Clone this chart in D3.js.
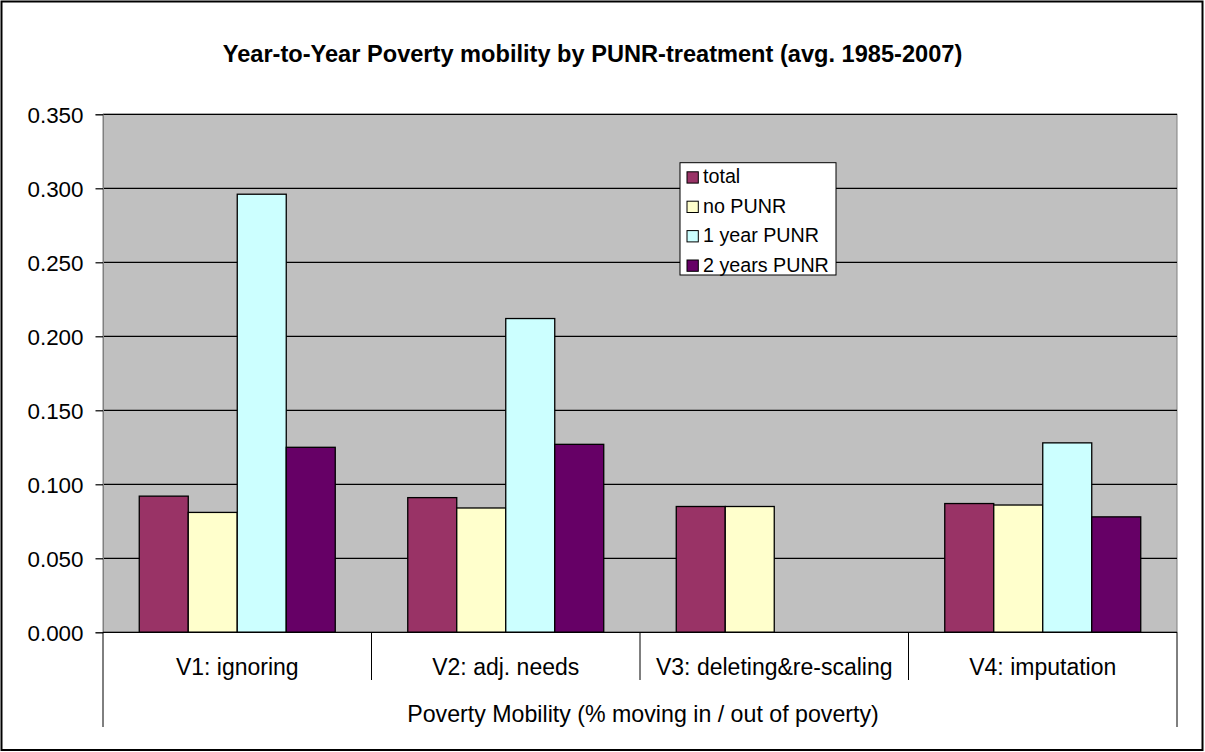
<!DOCTYPE html>
<html><head><meta charset="utf-8">
<script src="https://cdn.jsdelivr.net/npm/d3@7"></script>
<style>
html,body{margin:0;padding:0;background:#fff;}
svg{display:block;font-family:"Liberation Sans",Arial,sans-serif;}
</style></head>
<body>
<svg id="chart" width="1205" height="752"></svg>
<script>
const categories = ["V1: ignoring", "V2: adj. needs", "V3: deleting&re-scaling", "V4: imputation"];
const seriesNames = ["total", "no PUNR", "1 year PUNR", "2 years PUNR"];
const seriesColors = ["#993366", "#FFFFCC", "#CCFFFF", "#660066"];
const totalVals   = [0.092, 0.091, 0.085, 0.087];
const noPunrVals  = [0.081, 0.084, 0.085, 0.086];
const oneYearVals = [0.296, 0.212, null, 0.128];
const twoYearVals = [0.125, 0.127, null, 0.078];
const yTicks = [0, 0.05, 0.1, 0.15, 0.2, 0.25, 0.3, 0.35];
const titleText = "Year-to-Year Poverty mobility by PUNR-treatment (avg. 1985-2007)";
const xTitleText = "Poverty Mobility (% moving in / out of poverty)";

const seriesVals = [totalVals, noPunrVals, oneYearVals, twoYearVals];
const svg = d3.select("#chart");
const pLeft = 103, pRight = 1177, pTop = 114.3, pBottom = 632.3;

// outer border
svg.append("rect").attr("x",1.5).attr("y",1.5).attr("width",1201).attr("height",748.5)
  .attr("fill","#fff").attr("stroke","#000").attr("stroke-width",2);

const x0 = d3.scaleBand().domain(categories).range([pLeft,pRight]).paddingInner(0).paddingOuter(0);
const x1 = d3.scaleBand().domain(seriesNames).range([0,x0.bandwidth()]).paddingInner(0).paddingOuter(0.74);
const y = d3.scaleLinear().domain([0,0.35]).range([pBottom,pTop]);

// plot area
svg.append("rect").attr("x",pLeft).attr("y",pTop).attr("width",pRight-pLeft).attr("height",pBottom-pTop)
  .attr("fill","#C0C0C0").attr("stroke","#808080").attr("stroke-width",1);

// gridlines
svg.append("g").selectAll("line").data(yTicks.filter(d=>d>0)).join("line")
  .attr("x1",pLeft).attr("x2",pRight).attr("y1",d=>y(d)).attr("y2",d=>y(d))
  .attr("stroke","#000").attr("stroke-width",1.2);

// y axis
const yAxis = d3.axisLeft(y).tickValues(yTicks).tickFormat(d3.format(".3f")).tickSize(7.5).tickPadding(12);
const yg = svg.append("g").attr("transform",`translate(${pLeft},0)`).call(yAxis);
yg.select(".domain").attr("stroke","#808080").attr("stroke-width",1);
yg.selectAll(".tick line").attr("stroke","#000").attr("stroke-width",1.2);
yg.selectAll(".tick text").attr("font-size","22.4px").attr("fill","#000")
  .attr("font-family","'Liberation Sans',Arial,sans-serif").attr("dy","0.36em");

// bars
const groups = svg.append("g").selectAll("g").data(categories).join("g")
  .attr("transform",d=>`translate(${x0(d)},0)`);
groups.selectAll("rect").data((c,ci)=>seriesNames.map((s,si)=>({s,si,v:seriesVals[si][ci]})).filter(d=>d.v!=null))
  .join("rect")
  .attr("x",d=>x1(d.s)).attr("width",x1.bandwidth())
  .attr("y",d=>y(d.v)).attr("height",d=>y(0)-y(d.v))
  .attr("fill",d=>seriesColors[d.si]).attr("stroke","#000").attr("stroke-width",1.3);

// x axis line
svg.append("line").attr("x1",pLeft).attr("x2",pRight).attr("y1",pBottom).attr("y2",pBottom)
  .attr("stroke","#000").attr("stroke-width",1.2);

// category separators
const seps = d3.range(categories.length+1).map(i=>i===categories.length?pRight:x0(categories[i]));
svg.append("g").selectAll("line").data(seps).join("line")
  .attr("x1",d=>d).attr("x2",d=>d).attr("y1",pBottom)
  .attr("y2",(d,i)=>(i===0||i===categories.length)?727:680)
  .attr("stroke","#000").attr("stroke-width",1);

// category labels
svg.append("g").selectAll("text").data(categories).join("text")
  .attr("x",d=>x0(d)+x0.bandwidth()/2).attr("y",675)
  .attr("text-anchor","middle").attr("font-size","23px").attr("fill","#000").text(d=>d);

// axis title
svg.append("text").attr("x",(pLeft+pRight)/2+3).attr("y",721.5).attr("text-anchor","middle")
  .attr("font-size","23.2px").attr("fill","#000").text(xTitleText);

// title
svg.append("text").attr("x",592.5).attr("y",61.7).attr("text-anchor","middle")
  .attr("font-size","23.6px").attr("font-weight","bold").attr("fill","#000").text(titleText);

// legend
const lg = svg.append("g");
lg.append("rect").attr("x",680).attr("y",162.7).attr("width",156).attr("height",112.3)
  .attr("fill","#fff").attr("stroke","#000").attr("stroke-width",1);
const items = lg.selectAll("g").data(seriesNames).join("g")
  .attr("transform",(d,i)=>`translate(0,${183.3+i*29.4})`);
items.append("rect").attr("x",687).attr("y",-11.5).attr("width",11.3).attr("height",11.3)
  .attr("fill",(d,i)=>seriesColors[i]).attr("stroke","#000").attr("stroke-width",1);
items.append("text").attr("x",703).attr("y",0).attr("font-size","19.7px").attr("fill","#000").text(d=>d);
</script>
</body></html>
